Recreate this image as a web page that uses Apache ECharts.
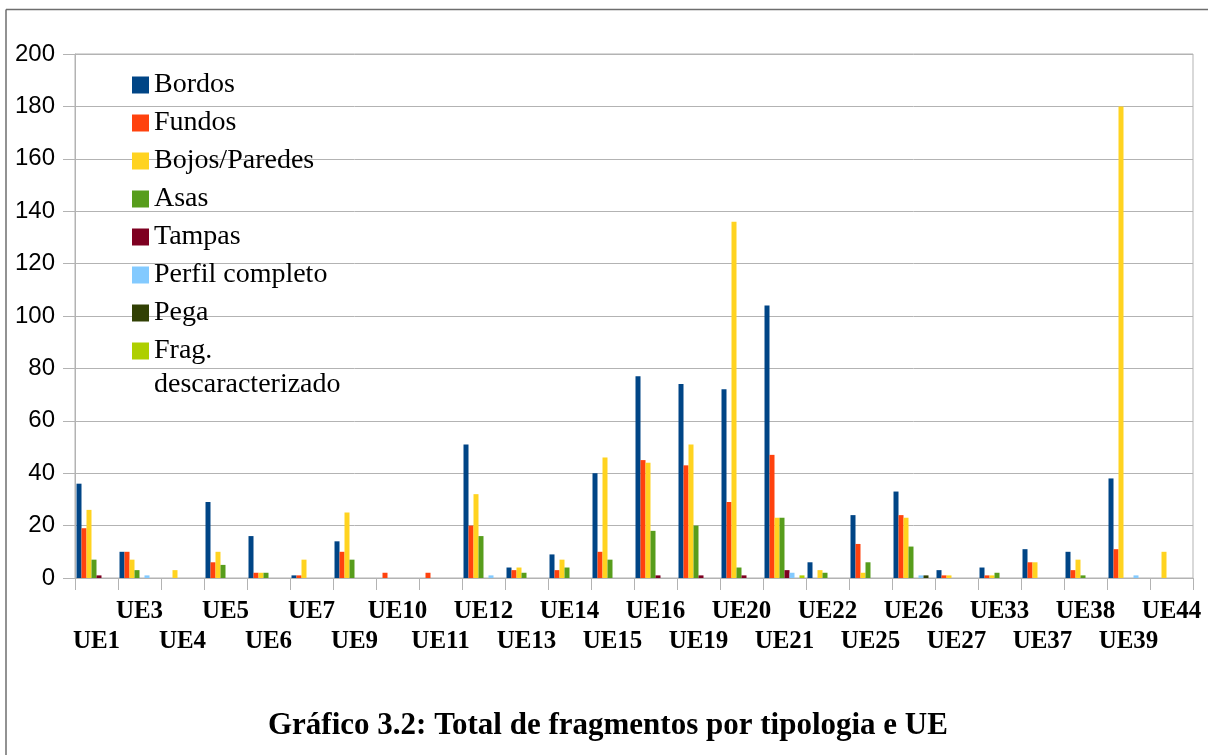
<!DOCTYPE html>
<html>
<head>
<meta charset="utf-8">
<script src="https://cdn.jsdelivr.net/npm/echarts@6/dist/echarts.min.js"></script>
<style>
  html, body { margin: 0; padding: 0; background: #fff; }
  #chart { width: 1208px; height: 755px; }
</style>
</head>
<body>
<div id="chart"></div>
<script>
const categories = ['UE1', 'UE3', 'UE4', 'UE5', 'UE6', 'UE7', 'UE9', 'UE10', 'UE11', 'UE12', 'UE13', 'UE14', 'UE15',
  'UE16', 'UE19', 'UE20', 'UE21', 'UE22', 'UE25', 'UE26', 'UE27', 'UE33', 'UE37', 'UE38', 'UE39', 'UE44']

const bordos = [36, 10, 0, 29, 16, 1, 14, 0, 0, 51, 4, 9, 40, 77, 74, 72, 104, 6, 24, 33, 3, 4, 11, 10, 38, 0]
const fundos = [19, 10, 0, 6, 2, 1, 10, 2, 2, 20, 3, 3, 10, 45, 43, 29, 47, 0, 13, 24, 1, 1, 6, 3, 11, 0]
const bojos = [26, 7, 3, 10, 2, 7, 25, 0, 0, 32, 4, 7, 46, 44, 51, 136, 23, 3, 2, 23, 1, 1, 6, 7, 180, 10]
const asas = [7, 3, 0, 5, 2, 0, 7, 0, 0, 16, 2, 4, 7, 18, 20, 4, 23, 2, 6, 12, 0, 2, 0, 1, 0, 0]
const tampas = [1, 0, 0, 0, 0, 0, 0, 0, 0, 0, 0, 0, 0, 1, 1, 1, 3, 0, 0, 0, 0, 0, 0, 0, 0, 0]
const perfil = [0, 1, 0, 0, 0, 0, 0, 0, 0, 1, 0, 0, 0, 0, 0, 0, 2, 0, 0, 1, 0, 0, 0, 0, 1, 0]
const pega = [0, 0, 0, 0, 0, 0, 0, 0, 0, 0, 0, 0, 0, 0, 0, 0, 0, 0, 0, 1, 0, 0, 0, 0, 0, 0]
const frag = [0, 0, 0, 0, 0, 0, 0, 0, 0, 0, 0, 0, 0, 0, 0, 0, 1, 0, 0, 0, 0, 0, 0, 0, 0, 0]

const seriesNames = ['Bordos', 'Fundos', 'Bojos/Paredes', 'Asas', 'Tampas', 'Perfil completo', 'Pega', 'Frag. descaracterizado']
const seriesValues = [bordos, fundos, bojos, asas, tampas, perfil, pega, frag]
const colors = ['#004586', '#ff420e', '#ffd320', '#579d1c', '#7e0021', '#83caff', '#314004', '#aecf00']

const chart = echarts.init(document.getElementById('chart'))

const serif = "'Liberation Serif', 'DejaVu Serif', serif"
const sans = "'Liberation Sans', Arial, sans-serif"
const axisGray = '#b3b3b3'

// shared legend look; the last item gets its own legend so its icon sits on the first text line
const legendBase = {
  orient: 'vertical',
  left: 132,
  padding: 0,
  itemWidth: 17,
  itemHeight: 17,
  itemGap: 4,
  icon: 'rect',
  textStyle: { fontFamily: serif, fontSize: 28, color: '#000', lineHeight: 34 }
}

const option = {
  animation: false,
  color: colors,
  title: {
    text: 'Gráfico 3.2: Total de fragmentos por tipologia e UE',
    left: 268,
    top: 710,
    padding: 0,
    textStyle: { fontFamily: serif, fontWeight: 'bold', fontSize: 31, color: '#000' }
  },
  legend: [
    Object.assign({}, legendBase, { top: 68, data: seriesNames.slice(0, 7) }),
    Object.assign({}, legendBase, {
      top: 300,
      data: seriesNames.slice(7),
      formatter: () => '\nFrag.\ndescaracterizado'
    })
  ],
  grid: {
    left: 75,
    right: 15,
    top: 54,
    bottom: 177,
    show: true,
    borderColor: axisGray,
    borderWidth: 1
  },
  xAxis: {
    type: 'category',
    data: categories,
    axisLine: { lineStyle: { color: axisGray, width: 1 } },
    axisTick: { show: true, length: 12, lineStyle: { color: axisGray } },
    axisLabel: {
      interval: 0,
      margin: 19,
      fontFamily: serif,
      fontWeight: 'bold',
      fontSize: 25,
      lineHeight: 30,
      color: '#000',
      formatter: (value, index) => index % 2 === 0 ? '\n' + value : value
    }
  },
  yAxis: {
    type: 'value',
    min: 0,
    max: 200,
    interval: 20,
    axisLine: { show: true, lineStyle: { color: axisGray } },
    axisTick: { show: true, length: 12, lineStyle: { color: axisGray } },
    axisLabel: { margin: 20, fontFamily: sans, fontSize: 24, color: '#000' },
    splitLine: { lineStyle: { color: axisGray } }
  },
  graphic: [
    { type: 'line', shape: { x1: 6, y1: 9.5, x2: 1208, y2: 9.5 }, style: { stroke: '#6e6e6e', lineWidth: 1.5 } },
    { type: 'line', shape: { x1: 6, y1: 9.5, x2: 6, y2: 755 }, style: { stroke: '#6e6e6e', lineWidth: 1.5 } }
  ],
  series: seriesNames.map((name, i) => ({
    name: name,
    type: 'bar',
    data: seriesValues[i],
    barGap: '0%',
    barCategoryGap: '7%'
  }))
}

chart.setOption(option)
</script>
</body>
</html>
